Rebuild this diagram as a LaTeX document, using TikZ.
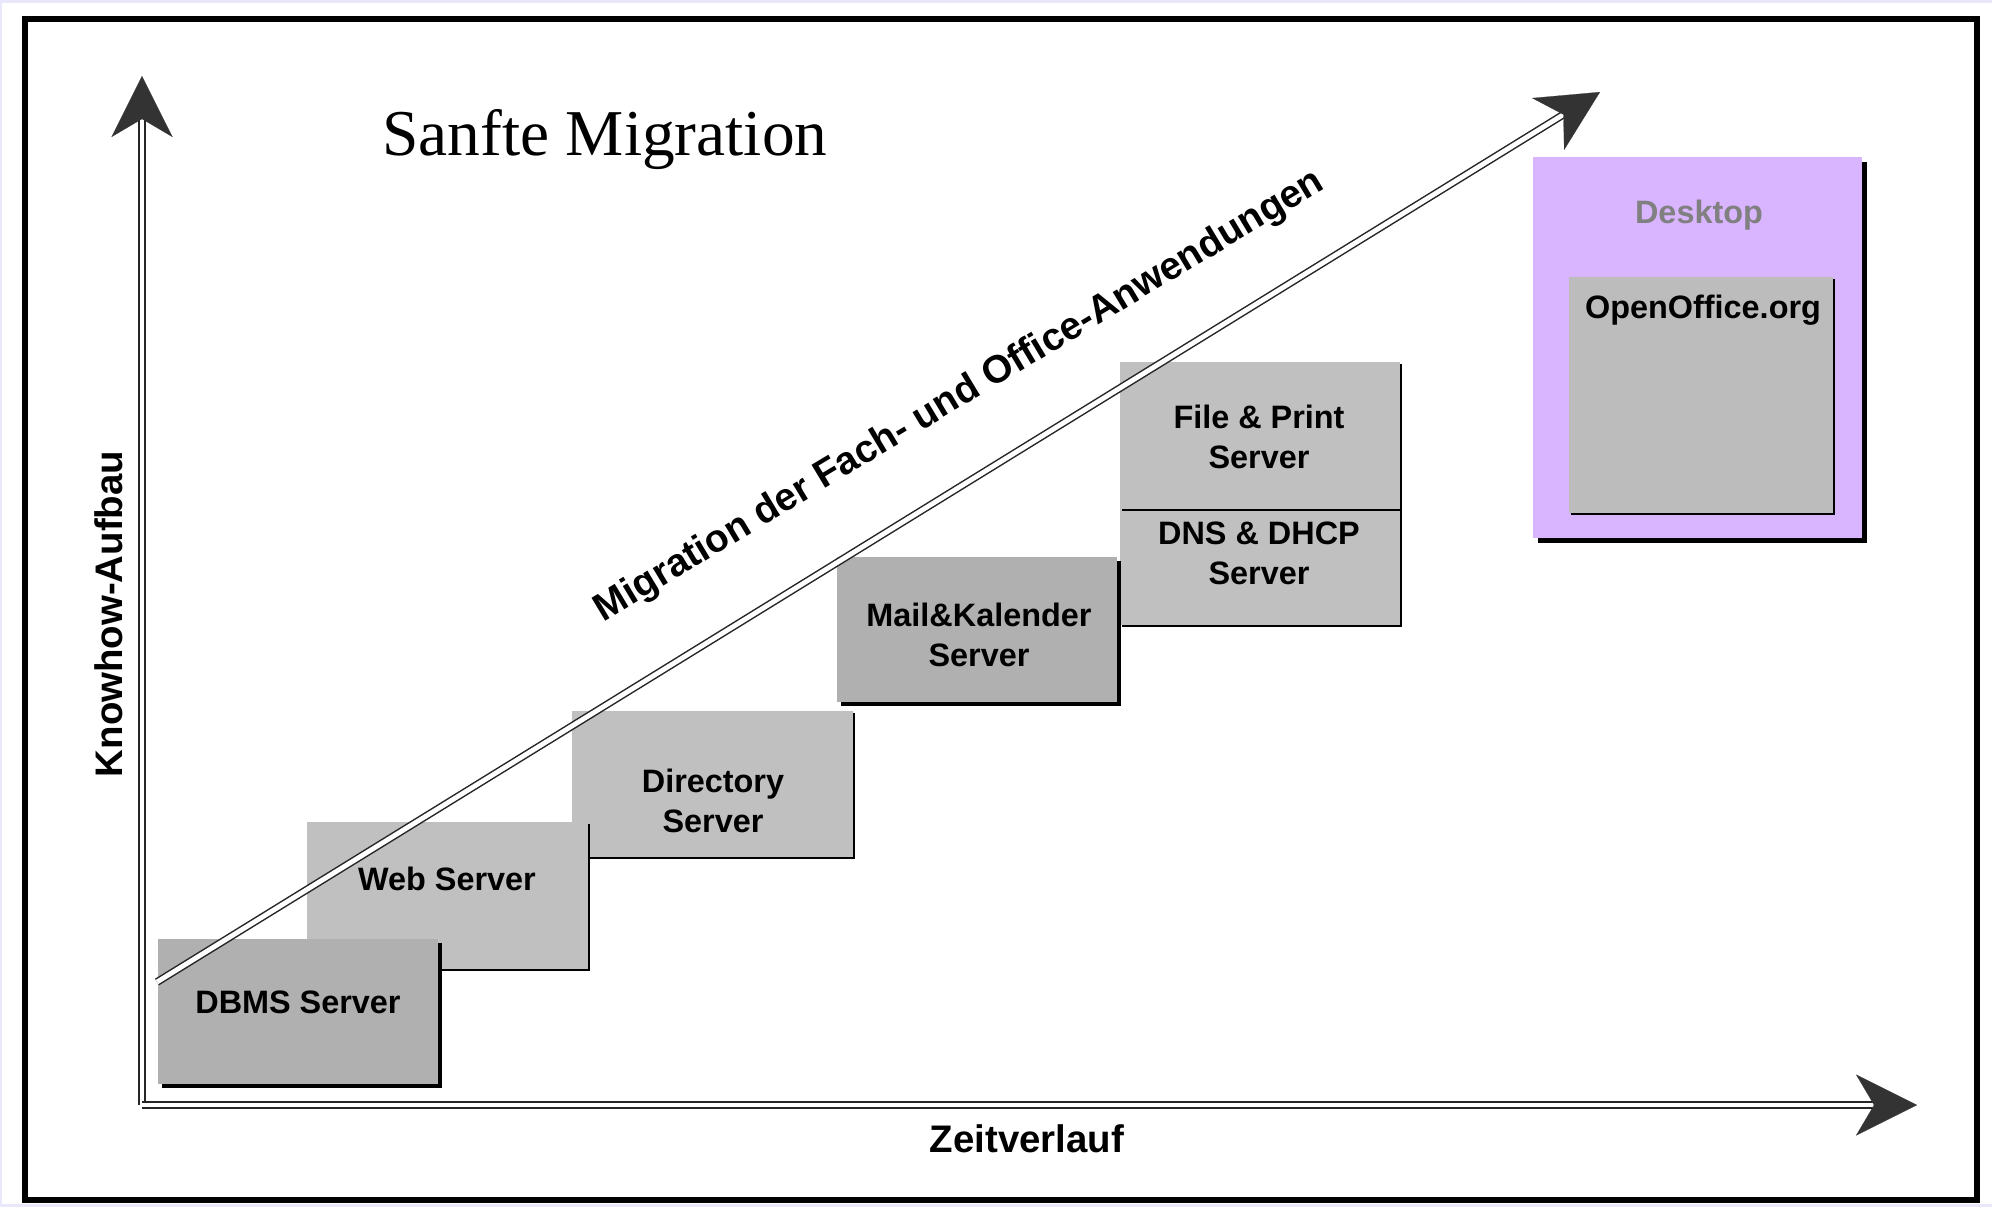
\documentclass[tikz,border=0pt]{standalone}
\usepackage{fontspec}
\setmainfont{Liberation Serif}
\setsansfont{Liberation Sans}
\usetikzlibrary{arrows.meta,fit,shadows}

\definecolor{pagebg}{RGB}{232,232,250}
\definecolor{boxdark}{RGB}{176,176,176}
\definecolor{boxlight}{RGB}{192,192,192}
\definecolor{deskfill}{RGB}{218,181,255}
\definecolor{tipgray}{RGB}{51,51,51}
\definecolor{labelgray}{RGB}{128,128,128}

\begin{document}
\begin{tikzpicture}[x=0.5pt,y=-0.5pt,
  box/.style={inner sep=0pt, outer sep=0pt, draw=none},
  darkbox/.style={box, fill=boxdark,
    general shadow={fill=black, shadow xshift=2pt, shadow yshift=-2pt}},
  lightbox/.style={box, fill=boxlight,
    general shadow={fill=black, shadow xshift=1pt, shadow yshift=-1pt}},
  deskbox/.style={box, fill=deskfill,
    general shadow={fill=black, shadow xshift=2.5pt, shadow yshift=-2.5pt}},
  lbl/.style={font=\sffamily\bfseries\fontsize{16.2}{20}\selectfont,
    align=center, inner sep=0pt, anchor=base},
  axislbl/.style={font=\sffamily\bfseries\fontsize{19.2}{23}\selectfont,
    inner sep=0pt, anchor=base},
  axis/.style={draw=black!85, line width=0.75pt, double=white,
    double distance=2.4pt,
    -{Stealth[length=30.5pt, width=30.5pt, inset=9pt, line width=0.1pt,
      color=tipgray]}}
]
\useasboundingbox (0,0) rectangle (1992,1207);

% page and frame
\fill[pagebg] (0,0) rectangle (1992,1207);
\fill[white] (2,3) rectangle (1992,1204);
\draw[line width=3pt] (24.5,18.5) rectangle (1976.5,1200);

% desktop block
\node[deskbox, fit={(1533,157) (1862,538)}] (desk) {};
\node[lightbox, fill=boxlight!98!black, fit={(1569,277) (1833,513)}] (oo) {};

% server blocks, back to front
\node[lightbox, fit={(1120,509) (1400,625)}] (dns) {};
\node[lightbox, fit={(1120,362) (1400,509)}] (file) {};
\node[darkbox, fit={(837,557) (1117,702)}] (mail) {};
\node[lightbox, fit={(572,711) (853,857)}] (dir) {};
\node[lightbox, fit={(307,822) (588,969)}] (web) {};
\node[darkbox, fit={(158,939) (438,1084)}] (dbms) {};

% block labels (two-line labels are anchored at the last baseline)
\node[lbl] (dbmslbl) at (298,1013) {DBMS Server};
\node[lbl] (weblbl) at (447,890) {Web Server};
\node[lbl] (dirlbl) at (713,832) {Directory\\Server};
\node[lbl] (maillbl) at (979,666) {Mail\&Kalender\\Server};
\node[lbl] (filelbl) at (1259,468) {File \& Print\\Server};
\node[lbl] (dnslbl) at (1259,584) {DNS \& DHCP\\Server};
\node[lbl, text=labelgray] (desklbl) at (1699,223) {Desktop};
\node[lbl] (oolbl) at (1703,318) {OpenOffice.org};

% title
\node[font=\fontsize{32.7}{38}\selectfont, inner sep=0pt, anchor=base]
  (title) at (605,155) {Sanfte Migration};

% axes and migration arrow
\coordinate (origin) at (142,1105);
\coordinate (ytip) at (142,76);
\coordinate (xtip) at (1917,1105);
\coordinate (dstart) at (157,982);
\coordinate (dtip) at (1600,92);

\draw[axis] (origin) -- (ytip);
\draw[axis] (origin) -- (xtip);
\draw[axis] (dstart) -- (dtip);

% axis and arrow labels
\node[axislbl] (xlbl) at (1027,1152) {Zeitverlauf};
\node[axislbl, rotate=90] (ylbl) at (122,614) {Knowhow-Aufbau};
\node[axislbl, font=\sffamily\bfseries\fontsize{19.4}{23}\selectfont,
  rotate=31] (dlbl) at (965,405)
  {Migration der Fach- und Office-Anwendungen};
\end{tikzpicture}
\end{document}
